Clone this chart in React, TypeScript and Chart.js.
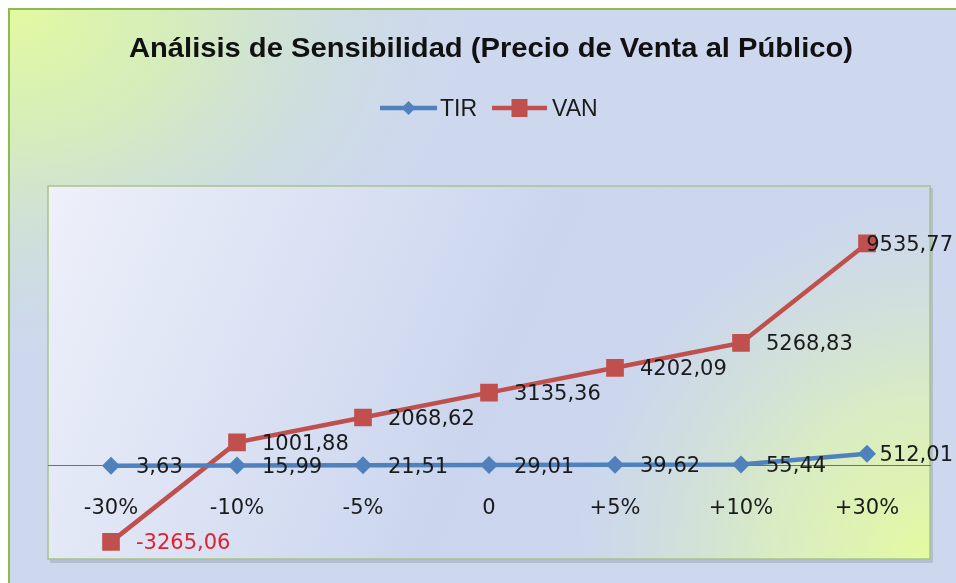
import React, { useEffect, useRef } from "react";
import { Chart, registerables } from "chart.js";

Chart.register(...registerables);

const titleText = "Análisis de Sensibilidad (Precio de Venta al Público)";
const categories = ["-30%", "-10%", "-5%", "0", "+5%", "+10%", "+30%"];
const tirValues = [3.63, 15.99, 21.51, 29.01, 39.62, 55.44, 512.01];
const vanValues = [-3265.06, 1001.88, 2068.62, 3135.36, 4202.09, 5268.83, 9535.77];
const yMin = -4000;
const yMax = 12000;

const TIR_COLOR = "#4f81bd";
const VAN_COLOR = "#c0504d";
const LABEL_FONT = "21px 'DejaVu Sans'";

const fmt = (v: number) => v.toFixed(2).replace(".", ",");

const backgroundPlugin = {
  id: "bgPlugin",
  beforeDraw(chart: any) {
    const { ctx, width, height, chartArea } = chart;
    ctx.save();
    ctx.fillStyle = "#ffffff";
    ctx.fillRect(0, 0, width, height);
    ctx.fillStyle = "#cdd8ef";
    ctx.fillRect(9, 9, width - 9, height - 9);
    ctx.save();
    ctx.translate(10, 10);
    ctx.scale(1.3, 1);
    const rg = ctx.createRadialGradient(0, 0, 0, 0, 0, 380);
    rg.addColorStop(0, "rgba(226,250,160,1)");
    rg.addColorStop(0.35, "rgba(214,238,184,0.9)");
    rg.addColorStop(0.7, "rgba(206,224,214,0.5)");
    rg.addColorStop(1, "rgba(205,216,239,0)");
    ctx.fillStyle = rg;
    ctx.fillRect(0, 0, width, height);
    ctx.restore();
    ctx.strokeStyle = "#8cbc4f";
    ctx.lineWidth = 2;
    ctx.beginPath();
    ctx.moveTo(9, height);
    ctx.lineTo(9, 9);
    ctx.lineTo(width, 9);
    ctx.stroke();

    const { left, top, right, bottom } = chartArea;
    const w = right - left;
    const h = bottom - top;
    ctx.fillStyle = "rgba(120,130,150,0.3)";
    ctx.fillRect(left + 2, top + 2, w + 1, h + 2);
    const lg = ctx.createLinearGradient(left, top, right, bottom);
    lg.addColorStop(0, "#eef0fa");
    lg.addColorStop(0.5, "#cbd6ee");
    lg.addColorStop(1, "#cdd8ee");
    ctx.fillStyle = lg;
    ctx.fillRect(left, top, w, h);
    const gg = ctx.createRadialGradient(right, bottom, 0, right, bottom, 360);
    gg.addColorStop(0, "rgba(228,250,160,1)");
    gg.addColorStop(0.45, "rgba(222,244,178,0.7)");
    gg.addColorStop(1, "rgba(210,230,200,0)");
    ctx.fillStyle = gg;
    ctx.fillRect(left, top, w, h);
    ctx.strokeStyle = "#a9c485";
    ctx.lineWidth = 1.5;
    ctx.strokeRect(left, top, w, h);
    ctx.restore();
  },
};

const overlayPlugin = {
  id: "overlayPlugin",
  afterDraw(chart: any) {
    const { ctx, width } = chart;
    ctx.save();
    ctx.font = "bold 28px 'Liberation Sans'";
    const tw = ctx.measureText(titleText).width;
    const targetW = 724;
    const sx = targetW / tw;
    ctx.fillStyle = "#111111";
    ctx.textBaseline = "alphabetic";
    ctx.textAlign = "left";
    ctx.save();
    ctx.translate(129, 57);
    ctx.scale(sx, 1);
    ctx.fillText(titleText, 0, 0);
    ctx.restore();

    const ly = 108;
    const items = [
      { x0: 380, x1: 437, tx: 440, ds: chart.data.datasets[0] },
      { x0: 492, x1: 547, tx: 552, ds: chart.data.datasets[1] },
    ];
    ctx.font = "23px 'Liberation Sans'";
    ctx.textBaseline = "middle";
    items.forEach((it, i) => {
      ctx.strokeStyle = it.ds.borderColor;
      ctx.lineWidth = 4.5;
      ctx.beginPath();
      ctx.moveTo(it.x0, ly);
      ctx.lineTo(it.x1, ly);
      ctx.stroke();
      ctx.fillStyle = it.ds.borderColor;
      const cx = (it.x0 + it.x1) / 2;
      if (i === 0) {
        ctx.beginPath();
        ctx.moveTo(cx, ly - 7);
        ctx.lineTo(cx + 7, ly);
        ctx.lineTo(cx, ly + 7);
        ctx.lineTo(cx - 7, ly);
        ctx.closePath();
        ctx.fill();
      } else {
        ctx.fillRect(cx - 8, ly - 9, 16, 18);
      }
      ctx.fillStyle = "#1a1a1a";
      ctx.fillText(it.ds.label, it.tx, ly + 2);
    });

    ctx.font = LABEL_FONT;
    ctx.textBaseline = "middle";
    chart.data.datasets.forEach((ds: any, di: number) => {
      const meta = chart.getDatasetMeta(di);
      meta.data.forEach((pt: any, i: number) => {
        const v = ds.data[i];
        const text = fmt(v);
        const tw2 = ctx.measureText(text).width;
        let x = pt.x + 25;
        if (x + tw2 > width - 3) x = width - 3 - tw2;
        ctx.fillStyle = v < 0 ? "#e3202c" : "#1a1a1a";
        ctx.fillText(text, x, pt.y + 2);
      });
    });
    ctx.restore();
  },
};

export default function App() {
  const ref = useRef<HTMLCanvasElement | null>(null);
  useEffect(() => {
    if (!ref.current) return;
    const chart = new Chart(ref.current, {
      type: "line",
      data: {
        labels: categories,
        datasets: [
          {
            label: "TIR",
            data: tirValues,
            borderColor: TIR_COLOR,
            backgroundColor: TIR_COLOR,
            borderWidth: 4.5,
            pointStyle: "rectRot",
            pointRadius: 9,
            pointBorderWidth: 0,
            tension: 0,
          },
          {
            label: "VAN",
            data: vanValues,
            borderColor: VAN_COLOR,
            backgroundColor: VAN_COLOR,
            borderWidth: 4.5,
            pointStyle: "rect",
            pointRadius: 12.5,
            pointBorderWidth: 0,
            tension: 0,
          },
        ],
      },
      options: {
        responsive: false,
        animation: false,
        events: [],
        layout: { padding: { left: 48, right: 26, top: 186, bottom: 24 } },
        plugins: {
          legend: { display: false },
          title: { display: false },
          tooltip: { enabled: false },
        },
        scales: {
          y: {
            display: false,
            min: yMin,
            max: yMax,
          },
          x: {
            position: { y: 0 } as any,
            offset: true,
            grid: { display: false, drawTicks: false },
            border: { display: true, color: "#6f6f6f", width: 1 },
            ticks: {
              padding: 30,
              color: "#1a1a1a",
              font: { family: "'DejaVu Sans'", size: 21 },
              maxRotation: 0,
              autoSkip: false,
            },
            afterFit: (scale: any) => {
              scale.height = 0;
            },
          } as any,
        },
      },
      plugins: [backgroundPlugin, overlayPlugin],
    });
    return () => chart.destroy();
  }, []);
  return (
    <div style={{ position: "absolute", left: 0, top: 0, width: 956, height: 583 }}>
      <canvas ref={ref} width={956} height={583} style={{ display: "block" }} />
    </div>
  );
}
